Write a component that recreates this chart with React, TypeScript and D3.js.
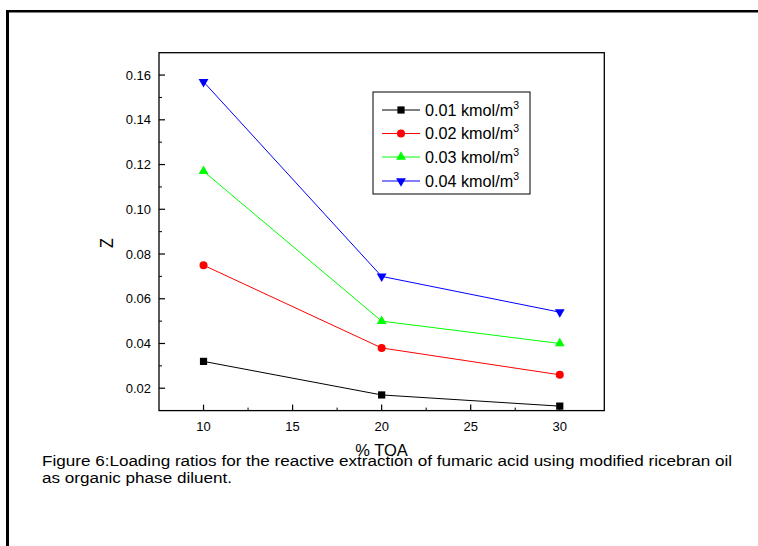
import React from "react";
import * as d3 from "d3";

const xValues = [10, 20, 30];
const seriesLabels = ["0.01 kmol/m", "0.02 kmol/m", "0.03 kmol/m", "0.04 kmol/m"];
const s001 = [0.032, 0.017, 0.012];
const s002 = [0.075, 0.038, 0.026];
const s003 = [0.117, 0.05, 0.04];
const s004 = [0.157, 0.07, 0.054];
const seriesColors = ["#000000", "#ff0000", "#00ff00", "#0000ff"];
const seriesShapes = ["square", "circle", "triangle", "triangleDown"];
const xTicks = [10, 15, 20, 25, 30];
const xMinor = [12.5, 17.5, 22.5, 27.5];
const yTicks = [0.02, 0.04, 0.06, 0.08, 0.1, 0.12, 0.14, 0.16];
const yMinor = [0.03, 0.05, 0.07, 0.09, 0.11, 0.13, 0.15];
const captionLines = [
  "Figure 6:Loading ratios for the reactive extraction of fumaric acid using modified ricebran oil",
  "as organic phase diluent.",
];
const captionWidths = [690, 190];

const FONT = "Liberation Sans, Arial, sans-serif";

function Marker({ shape, x, y, color }: { shape: string; x: number; y: number; color: string }) {
  if (shape === "square") return <rect x={x - 3.6} y={y - 3.6} width={7.2} height={7.2} fill={color} />;
  if (shape === "circle") return <circle cx={x} cy={y} r={4} fill={color} />;
  const sym = d3.symbol().type(d3.symbolTriangle).size(42)();
  const rot = shape === "triangleDown" ? 180 : 0;
  return <path d={sym || ""} transform={`translate(${x},${y}) rotate(${rot})`} fill={color} />;
}

export default function App() {
  const left = 159, right = 604.3, top = 52.7, bottom = 410.6;
  const x = d3.scaleLinear().domain([7.5, 32.5]).range([left, right]);
  const y = d3.scaleLinear().domain([0.01, 0.17]).range([bottom, top]);
  const series = [s001, s002, s003, s004];
  const line = d3.line<number>().x((_, i) => x(xValues[i])).y((d) => y(d));

  const legX = 373, legY = 92, legW = 157, legH = 102;
  const legRows = [110, 133.5, 157, 181];

  return (
    <svg width={758} height={546} style={{ position: "absolute", left: 0, top: 0, background: "#fff" }} fontFamily={FONT}>
      <rect x={0} y={0} width={758} height={546} fill="#fff" />
      {/* page frame */}
      <line x1={7.5} y1={10} x2={7.5} y2={546} stroke="#000" strokeWidth={3} />
      <line x1={6} y1={11.2} x2={758} y2={11.2} stroke="#000" strokeWidth={2.6} />

      {/* plot box */}
      <rect x={left} y={top} width={right - left} height={bottom - top} fill="none" stroke="#000" strokeWidth={1.3} />

      {/* x ticks */}
      {xTicks.map((t) => (
        <g key={"xt" + t}>
          <line x1={x(t)} x2={x(t)} y1={bottom} y2={bottom - 6} stroke="#000" strokeWidth={1.2} />
          <text x={x(t)} y={bottom + 20.5} textAnchor="middle" fontSize={13} fill="#000">{t}</text>
        </g>
      ))}
      {xMinor.map((t) => (
        <line key={"xm" + t} x1={x(t)} x2={x(t)} y1={bottom} y2={bottom - 3} stroke="#000" strokeWidth={1} />
      ))}
      {/* y ticks */}
      {yTicks.map((t) => (
        <g key={"yt" + t}>
          <line x1={left} x2={left + 6} y1={y(t)} y2={y(t)} stroke="#000" strokeWidth={1.2} />
          <text x={left - 8} y={y(t) + 4.5} textAnchor="end" fontSize={13} fill="#000">{t.toFixed(2)}</text>
        </g>
      ))}
      {yMinor.map((t) => (
        <line key={"ym" + t} x1={left} x2={left + 3} y1={y(t)} y2={y(t)} stroke="#000" strokeWidth={1} />
      ))}

      {/* axis titles */}
      <text x={381.5} y={456} textAnchor="middle" fontSize={16.5} fill="#000">% TOA</text>
      <text transform={`translate(113,243) rotate(-90) scale(1,1.2)`} textAnchor="middle" fontSize={16} fill="#000">Z</text>

      {/* series */}
      {series.map((s, si) => (
        <g key={"s" + si}>
          <path d={line(s) || ""} fill="none" stroke={seriesColors[si]} strokeWidth={1} />
          {s.map((v, i) => (
            <Marker key={i} shape={seriesShapes[si]} x={x(xValues[i])} y={y(v)} color={seriesColors[si]} />
          ))}
        </g>
      ))}

      {/* legend */}
      <rect x={legX} y={legY} width={legW} height={legH} fill="#fff" stroke="#000" strokeWidth={1} />
      {seriesLabels.map((lab, i) => (
        <g key={"lg" + i}>
          <line x1={382} x2={420} y1={legRows[i]} y2={legRows[i]} stroke={seriesColors[i]} strokeWidth={1} />
          <Marker shape={seriesShapes[i]} x={401} y={legRows[i]} color={seriesColors[i]} />
          <text x={425} y={legRows[i] + 5.5} fontSize={16.2} fill="#000">
            {lab}
            <tspan fontSize={10.5} dy={-7}>3</tspan>
          </text>
        </g>
      ))}

      {/* caption */}
      {captionLines.map((c, i) => (
        <text
          key={"c" + i}
          x={42}
          y={466 + i * 17}
          fontSize={14}
          textLength={captionWidths[i]}
          lengthAdjust="spacingAndGlyphs"
          fill="#000"
        >
          {c}
        </text>
      ))}
    </svg>
  );
}
